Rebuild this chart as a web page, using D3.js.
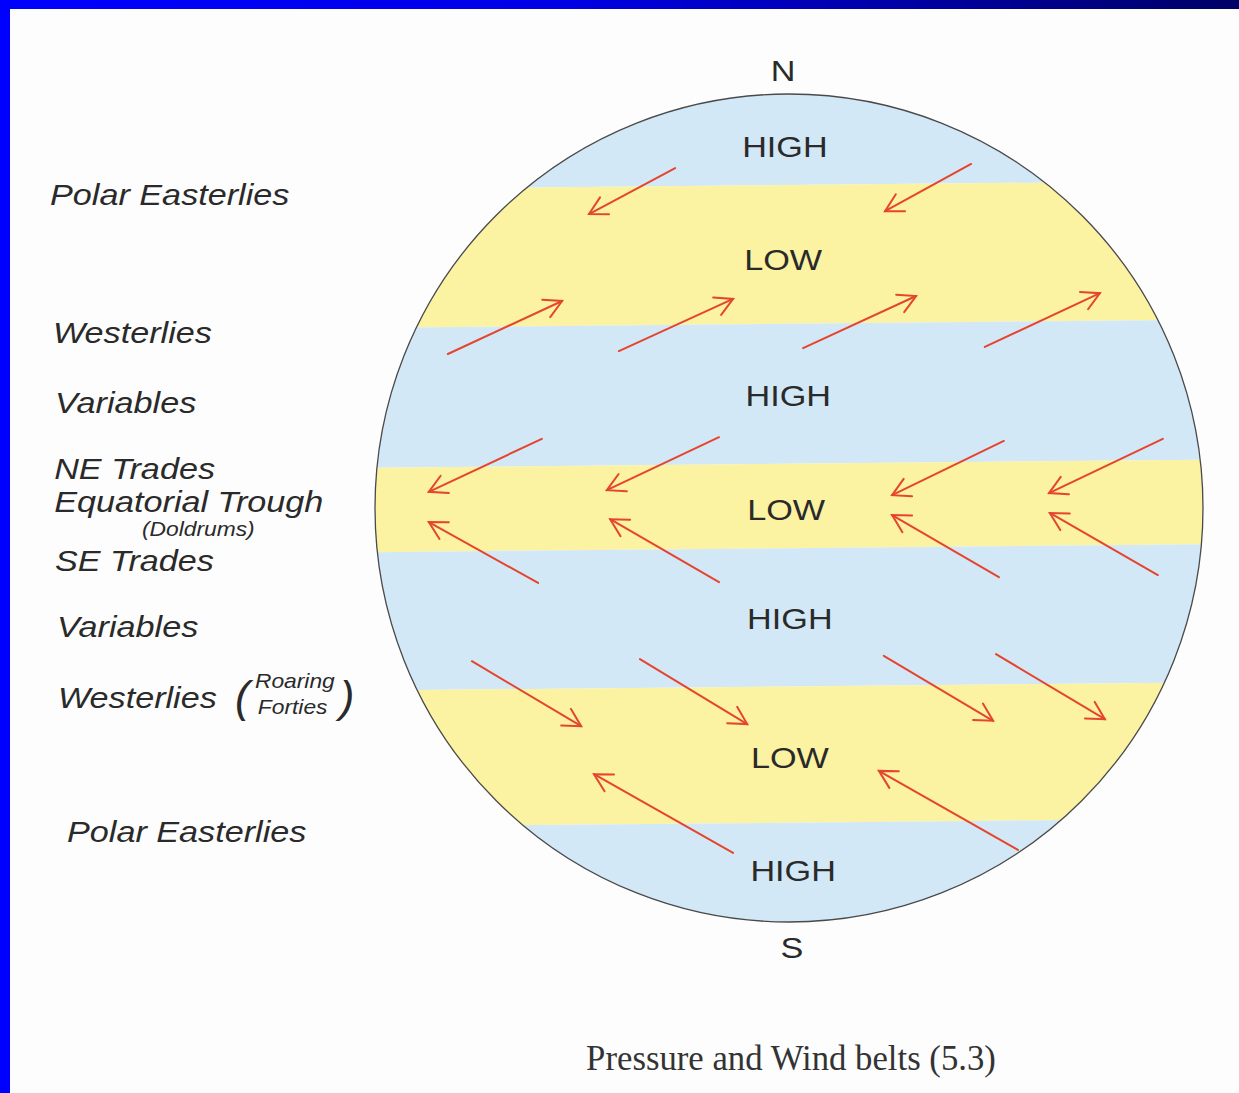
<!DOCTYPE html>
<html>
<head>
<meta charset="utf-8">
<script src="https://cdn.jsdelivr.net/npm/d3@7"></script>
<style>
  html, body { margin: 0; padding: 0; background: #fdfdfd; }
  svg { display: block; }
</style>
</head>
<body>
<div id="belts"></div>
<script>
const width = 1239;
const height = 1093;
const cx = 789;
const cy = 508;
const radius = 414;

// pressure belts, edges in globe units (1 = north pole, -1 = south pole)
const bandEdges = [1, 0.780, 0.445, 0.107, -0.097, -0.431, -0.760, -1];
const bandKinds = ["HIGH", "LOW", "HIGH", "LOW", "HIGH", "LOW", "HIGH"];
const pressureX = [-0.010, -0.014, -0.002, -0.007, 0.002, 0.002, 0.010];
const pressureY = [0.874, 0.601, 0.273, -0.002, -0.266, -0.603, -0.874];

// wind arrows, tail -> head, globe units
const windTailX = [-0.275, 0.440, -0.824, -0.411, 0.034, 0.473, -0.597, -0.169, 0.519, 0.903,
                   -0.606, -0.169, 0.507, 0.891, -0.766, -0.360, 0.229, 0.500, -0.135, 0.553];
const windTailY = [0.821, 0.831, 0.372, 0.379, 0.386, 0.389, 0.167, 0.171, 0.162, 0.167,
                   -0.181, -0.179, -0.167, -0.162, -0.370, -0.365, -0.357, -0.353, -0.833, -0.826];
const windHeadX = [-0.483, 0.232, -0.548, -0.135, 0.307, 0.751, -0.870, -0.440, 0.249, 0.628,
                   -0.870, -0.432, 0.249, 0.630, -0.502, -0.101, 0.493, 0.763, -0.471, 0.217];
const windHeadY = [0.710, 0.717, 0.500, 0.505, 0.512, 0.519, 0.039, 0.043, 0.031, 0.036,
                   -0.034, -0.027, -0.017, -0.012, -0.527, -0.522, -0.514, -0.510, -0.643, -0.635];

// wind belt names on the left
const beltNames = ["Polar Easterlies", "Westerlies", "Variables", "NE Trades", "Equatorial Trough",
                   "SE Trades", "Variables", "Westerlies", "Polar Easterlies"];
const beltX = [-1.785, -1.778, -1.773, -1.775, -1.775, -1.773, -1.768, -1.766, -1.744];
const beltY = [0.732, 0.399, 0.229, 0.070, -0.010, -0.152, -0.312, -0.483, -0.807];

const noteNames = ["(Doldrums)", "Roaring", "Forties"];
const noteX = [-1.563, -1.290, -1.283];
const noteY = [-0.068, -0.435, -0.498];

const poleNames = ["N", "S"];
const poleX = [-0.014, 0.007];
const poleY = [1.058, -1.060];

const caption = "Pressure and Wind belts (5.3)";

const sans = "'Liberation Sans', Arial, Helvetica, sans-serif";
const stretch = 1.14;

let x = d3.scaleLinear().domain([-1, 1]).range([cx - radius, cx + radius]);
let y = d3.scaleLinear().domain([-1, 1]).range([cy + radius, cy - radius]);

let svg = d3.select("#belts").append("svg")
    .attr("width", width)
    .attr("height", height);

// slide frame
let grad = svg.append("defs").append("linearGradient")
    .attr("id", "topbar");
grad.append("stop").attr("offset", "0%").attr("stop-color", "#0000ff");
grad.append("stop").attr("offset", "45%").attr("stop-color", "#0000e6");
grad.append("stop").attr("offset", "100%").attr("stop-color", "#000066");

svg.append("rect")
    .attr("width", width).attr("height", height)
    .attr("fill", "#fdfdfd");
svg.append("rect")
    .attr("width", width).attr("height", 9)
    .attr("fill", "url(#topbar)");
svg.append("rect")
    .attr("width", 10).attr("height", height)
    .attr("fill", "#0000ff");

svg.select("defs").append("clipPath")
    .attr("id", "globe")
    .append("circle")
    .attr("cx", x(0)).attr("cy", y(0))
    .attr("r", x(1) - x(0));

// bands, tilted very slightly like the scan
let bands = svg.append("g")
    .attr("clip-path", "url(#globe)")
    .append("g")
    .attr("transform", `rotate(-0.55, ${x(0)}, ${y(0)})`);

bands.selectAll("rect")
    .data(bandKinds)
    .enter()
    .append("rect")
    .attr("x", x(-1.2))
    .attr("width", x(1.2) - x(-1.2))
    .attr("y", (d, i) => y(bandEdges[i]))
    .attr("height", (d, i) => y(bandEdges[i + 1]) - y(bandEdges[i]))
    .attr("fill", d => d == "HIGH" ? "#d3e8f6" : "#fbf2a2");

svg.append("circle")
    .attr("cx", x(0)).attr("cy", y(0))
    .attr("r", x(1) - x(0))
    .attr("fill", "none")
    .attr("stroke", "#4a4a4a")
    .attr("stroke-width", 1.3);

// pressure labels
svg.selectAll("text.pressure")
    .data(bandKinds)
    .enter()
    .append("text")
    .attr("class", "pressure")
    .attr("transform", (d, i) => `translate(${x(pressureX[i])},${y(pressureY[i])}) scale(${stretch},1)`)
    .attr("dy", "0.36em")
    .attr("text-anchor", "middle")
    .style("font-family", sans)
    .style("font-size", "30px")
    .attr("fill", "#2a2a2a")
    .text(d => d);

// wind arrows
let arrows = svg.selectAll("g.wind")
    .data(windTailX.map((d, i) => i))
    .enter()
    .append("g")
    .attr("class", "wind")
    .attr("stroke", "#e5452e")
    .attr("stroke-width", 2)
    .attr("fill", "none")
    .attr("stroke-linecap", "round");

arrows.append("line")
    .attr("x1", i => x(windTailX[i]))
    .attr("y1", i => y(windTailY[i]))
    .attr("x2", i => x(windHeadX[i]))
    .attr("y2", i => y(windHeadY[i]));

arrows.append("path")
    .attr("d", i => {
        let hx = x(windHeadX[i]), hy = y(windHeadY[i]);
        let a = Math.atan2(y(windTailY[i]) - hy, x(windTailX[i]) - hx);
        let len = 20, spread = 0.5;
        return `M${hx + len * Math.cos(a - spread)},${hy + len * Math.sin(a - spread)}` +
            `L${hx},${hy}` +
            `L${hx + len * Math.cos(a + spread)},${hy + len * Math.sin(a + spread)}`;
    });

// wind belt names
svg.selectAll("text.belt")
    .data(beltNames)
    .enter()
    .append("text")
    .attr("class", "belt")
    .attr("transform", (d, i) => `translate(${x(beltX[i])},${y(beltY[i])}) scale(${stretch},1)`)
    .style("font-family", sans)
    .style("font-size", "30px")
    .style("font-style", "italic")
    .attr("fill", "#2a2a2a")
    .text(d => d);

svg.selectAll("text.note")
    .data(noteNames)
    .enter()
    .append("text")
    .attr("class", "note")
    .attr("transform", (d, i) => `translate(${x(noteX[i])},${y(noteY[i])}) scale(${stretch},1)`)
    .style("font-family", sans)
    .style("font-size", "20px")
    .style("font-style", "italic")
    .attr("fill", "#2a2a2a")
    .text(d => d);

// big brackets round Roaring Forties
svg.selectAll("text.bracket")
    .data(["(", ")"])
    .enter()
    .append("text")
    .attr("class", "bracket")
    .attr("x", (d, i) => x(i == 0 ? -1.338 : -1.085))
    .attr("y", y(-0.493))
    .style("font-family", sans)
    .style("font-size", "44px")
    .style("font-style", "italic")
    .attr("fill", "#2a2a2a")
    .text(d => d);

svg.selectAll("text.pole")
    .data(poleNames)
    .enter()
    .append("text")
    .attr("class", "pole")
    .attr("transform", (d, i) => `translate(${x(poleX[i])},${y(poleY[i])}) scale(${stretch},1)`)
    .attr("dy", "0.36em")
    .attr("text-anchor", "middle")
    .style("font-family", sans)
    .style("font-size", "30px")
    .attr("fill", "#2a2a2a")
    .text(d => d);

svg.append("text")
    .attr("transform", `translate(791,1070) scale(0.965,1)`)
    .attr("text-anchor", "middle")
    .style("font-family", "'Liberation Serif', 'Times New Roman', serif")
    .style("font-size", "36px")
    .attr("fill", "#333")
    .text(caption);
</script>
</body>
</html>
